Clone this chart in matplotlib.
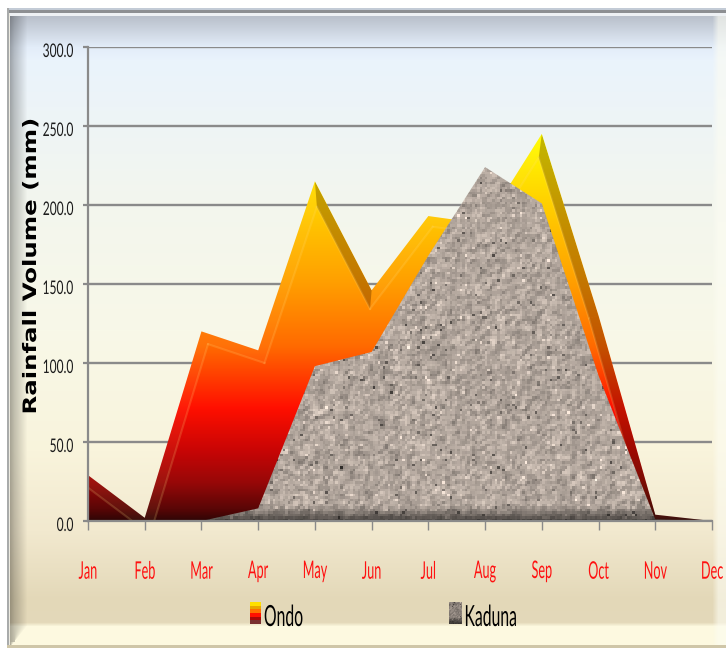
import numpy as np
import matplotlib
matplotlib.use('Agg')
import matplotlib.pyplot as plt
import matplotlib.patheffects as pe
from matplotlib.colors import LinearSegmentedColormap, to_rgb
from matplotlib.transforms import Affine2D

# monthly rainfall, mm
months = ['Jan', 'Feb', 'Mar', 'Apr', 'May', 'Jun', 'Jul', 'Aug', 'Sep', 'Oct', 'Nov', 'Dec']
ondo = [29, 2, 120, 108, 215, 146, 193, 188, 245, 130, 4, 0]
kaduna = [0, 0, 0, 8, 98, 107, 168, 224, 201, 92, 1, 0]
y_ticks = [0, 50, 100, 150, 200, 250, 300]

W, H = 726, 648
AX_W, AX_H = 624, 474
LABEL_FONT = ['Lato', 'DejaVu Sans']


class Squeeze(pe.AbstractPathEffect):
    """Stretch text about its centre (or right edge) to fake a condensed face."""

    def __init__(self, sx=1.0, sy=1.0, anchor='center', dy=0):
        super().__init__()
        self.sx, self.sy, self.anchor, self.dy = sx, sy, anchor, dy

    def draw_path(self, renderer, gc, tpath, affine, rgbFace=None):
        box = affine.transform_path(tpath).get_extents()
        x0 = box.x1 if self.anchor == 'right' else 0.5 * (box.x0 + box.x1)
        y0 = 0.5 * (box.y0 + box.y1)
        t = affine + Affine2D().translate(-x0, -y0).scale(self.sx, self.sy).translate(x0, y0 - self.dy)
        renderer.draw_path(gc, tpath, t, rgbFace)


def panel_background():
    """Cream/blue panel with the bevelled edge, as an RGB array."""
    stops_y = [16, 47, 60, 200, 330, 450, 530, 600, 622, 626, 645]
    stops_c = ['#b9c0cb', '#e3edf9', '#eaf3fc', '#f3f6ee', '#f8f8e8', '#f9f4dc',
               '#f2e9cf', '#e3d8b8', '#e4d9ba', '#fdf9e0', '#fdf9e0']
    rgb = np.array([to_rgb(c) for c in stops_c])
    yy = np.arange(H)
    col = np.stack([np.interp(yy, stops_y, rgb[:, i]) for i in range(3)], axis=1)
    img = np.repeat(col[:, None, :], W, axis=1)

    # darker left bevel, closing diagonally into the bottom strip
    for row in range(H):
        end = 27 if row < 625 else max(11, 27 - (row - 625) * 0.8)
        shade = np.interp(np.arange(W), [10, 14, end], [0.68, 0.78, 1.0]) if end > 14 else \
            np.interp(np.arange(W), [10, end], [0.7, 1.0])
        img[row] *= shade[:, None]
    # pale strip on the right
    fade = np.interp(np.arange(W), [712, 718], [0.0, 0.6])[None, :, None]
    img = img * (1 - fade) + fade * np.array([0.99, 0.99, 0.95])

    # frame
    img[:, :7] = 1.0
    img[:8, :] = 1.0
    img[8:10, 7:] = to_rgb('#c3cbd6')
    img[10:13, 7:] = to_rgb('#8d8f92')
    img[13:16, 10:] = to_rgb('#eef1f4')
    img[8:, 7:9] = to_rgb('#a9abab')
    img[13:, 9:10] = to_rgb('#eceae0')
    img[645:, 7:] = to_rgb('#cfc6a8')
    return img


def stone_texture(rows, cols, dark_rows=7):
    """Speckled grey-brown granite fill."""
    rng = np.random.default_rng(7)
    n = rng.normal(0, 1, (rows, cols))
    n = (n + np.roll(n, 1, 0) + np.roll(n, 1, 1)) / 1.7
    tex = 0.665 + 0.06 * n
    tex[rng.random((rows, cols)) > 0.985] -= 0.27
    tex[rng.random((rows, cols)) > 0.985] += 0.17
    out = np.stack([tex * 1.05, tex * 0.98, tex * 0.925], axis=2)
    # darkens toward the baseline
    ramp = np.interp(np.arange(rows), [rows - dark_rows, rows - dark_rows // 2, rows - 1], [1.0, 0.62, 0.42])
    return np.clip(out * ramp[:, None, None], 0, 1)


def inner_edge(x, y, depth):
    """Offset the top edge of an area inward by depth pixels, mitred at the vertices."""
    px = np.asarray(x, dtype=float) * AX_W / (len(x) - 1)
    py = np.asarray(y, dtype=float) * AX_H / 300
    m = np.diff(py) / np.diff(px)
    c = py[:-1] - m * px[:-1] - depth * np.sqrt(1 + m ** 2)
    ix, iy = px.copy(), py.copy()
    iy[0] = m[0] * px[0] + c[0]
    iy[-1] = m[-1] * px[-1] + c[-1]
    for i in range(1, len(px) - 1):
        if abs(m[i - 1] - m[i]) < 0.1:
            iy[i] = m[i] * px[i] + c[i]
        else:
            ix[i] = (c[i] - c[i - 1]) / (m[i - 1] - m[i])
            iy[i] = m[i] * ix[i] + c[i]
    return ix * (len(x) - 1) / AX_W, iy * 300 / AX_H, m


fig = plt.figure(figsize=(W / 100, H / 100), dpi=100)

bg = fig.add_axes([0, 0, 1, 1])
bg.imshow(panel_background(), extent=(0, W, H, 0), aspect='auto', interpolation='bilinear')
bg.axis('off')

ax = fig.add_axes([88 / W, 1 - 521 / H, AX_W / W, AX_H / H])
ax.patch.set_alpha(0)
x = np.arange(len(months))

# Ondo area, vertical heat gradient
heat = LinearSegmentedColormap.from_list('heat', [
    (0.00, '#300505'), (0.03, '#5a0606'), (0.10, '#990808'), (0.18, '#c80505'), (0.29, '#ff0f00'),
    (0.45, '#ff6a00'), (0.62, '#ffa000'), (0.82, '#ffd000'), (1.00, '#ffff00')])
grad = np.linspace(1, 0, 256)[:, None]
im = ax.imshow(grad, cmap=heat, extent=(0, 11, 0, 245), aspect='auto', zorder=3)
ondo_area = ax.fill_between(x, ondo, 0, facecolor='none', edgecolor='none')
ondo_path = ondo_area.get_paths()[0]
im.set_clip_path(ondo_path, transform=ax.transData)

# bevel along the top edge of the Ondo area
ix, iy, slopes = inner_edge(x, ondo, 10)
for i in range(len(x) - 1):
    qx = [x[i], x[i + 1], ix[i + 1], ix[i]]
    qy = [ondo[i], ondo[i + 1], iy[i + 1], iy[i]]
    if slopes[i] < -0.8:
        facets = ax.fill(qx, qy, color='#3a1800', alpha=0.3, lw=0, zorder=4)
    else:
        facets = ax.fill(qx, qy, color='#fff6a0', alpha=0.05, lw=0, zorder=4)
    facets[0].set_clip_path(ondo_path, transform=ax.transData)
    ridge = ax.plot(ix[i:i + 2], iy[i:i + 2], color='#ffe080', alpha=0.18, lw=1.5, zorder=4)
    ridge[0].set_clip_path(ondo_path, transform=ax.transData)

# Kaduna area, stone texture
stone = ax.imshow(stone_texture(190, 250), extent=(0, 11, 0, 300), aspect='auto',
                  interpolation='nearest', zorder=5)
kaduna_area = ax.fill_between(x, kaduna, 0, facecolor='none', edgecolor='none')
stone.set_clip_path(kaduna_area.get_paths()[0], transform=ax.transData)
ax.set_xlim(0, 11)
ax.set_ylim(0, 300)

# axes, ticks and grid
for side in ['top', 'right']:
    ax.spines[side].set_visible(False)
for side in ['left', 'bottom']:
    ax.spines[side].set_color('#8a8a8a')
    ax.spines[side].set_linewidth(1.6)
    ax.spines[side].set_zorder(6)
ax.set_axisbelow(True)
ax.yaxis.grid(True, color='#8a8a8a', lw=1.7, zorder=1)
ax.set_xticks(x)
ax.set_xticklabels(months, family=LABEL_FONT, fontsize=11.5, color='#ff1010')
ax.set_yticks(y_ticks)
ax.set_yticklabels([f'{v:.1f}' for v in y_ticks], family=LABEL_FONT, fontsize=9.5, color='#1c1c1c')
ax.tick_params(axis='x', length=6.5, width=1, color='#8a8a8a', pad=25)
ax.tick_params(axis='y', length=3.5, width=1.6, color='#8a8a8a', pad=7)
for t in ax.get_xticklabels():
    t.set_path_effects([Squeeze(sx=0.79, sy=1.52)])
for t in ax.get_yticklabels():
    t.set_path_effects([Squeeze(sx=0.91, sy=1.42, anchor='right', dy=3)])
ylab = ax.set_ylabel('Rainfall Volume (mm)', fontsize=13.3, fontweight='bold', color='black',
                     family=['DejaVu Sans'])
ax.yaxis.set_label_coords(-48 / AX_W, 1 - (266 - 47) / AX_H)
ylab.set_path_effects([Squeeze(sy=1.32)])

# legend keys
ondo_key = np.array([to_rgb(c) for c in ['#ffe000', '#e8a800', '#ff7000', '#ff1000', '#a80808', '#7a3030']])[:, None, :]
bg.imshow(ondo_key, extent=(250, 261, 624, 602), aspect='auto', interpolation='nearest')
bg.imshow(stone_texture(22, 13, dark_rows=8) * 0.8, extent=(449, 462, 624, 602), aspect='auto',
          interpolation='nearest')
bg.set_xlim(0, W)
bg.set_ylim(H, 0)
for label, cx in [('Ondo', 283.5), ('Kaduna', 490.5)]:
    bg.text(cx, 618, label, family=LABEL_FONT, fontsize=21, color='black', ha='center', va='center',
            path_effects=[Squeeze(sx=0.54)])

plt.savefig('out.png', dpi=100)
plt.close(fig)
